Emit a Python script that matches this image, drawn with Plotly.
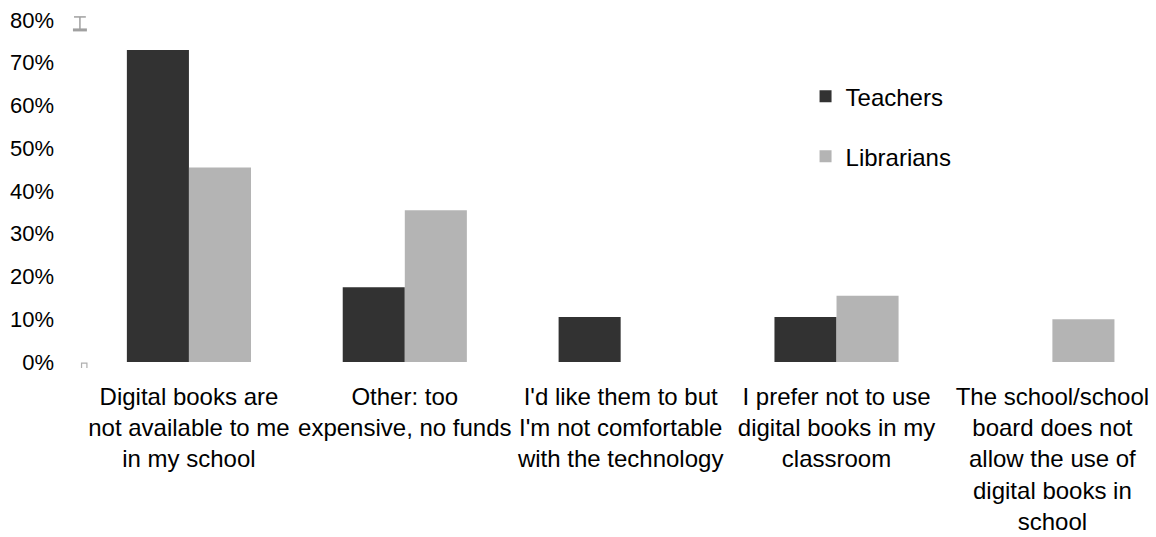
import plotly.graph_objects as go

categories = [
    "Digital books are<br>not available to me<br>in my school",
    "Other: too<br>expensive, no funds",
    "I'd like them to but<br>I'm not comfortable<br>with the technology",
    "I prefer not to use<br>digital books in my<br>classroom",
    "The school/school<br>board does not<br>allow the use of<br>digital books in<br>school",
]
teachers = [0.73, 0.175, 0.105, 0.105, 0.0]
librarians = [0.455, 0.355, 0.0, 0.155, 0.10]
y_ticks = [0, 0.1, 0.2, 0.3, 0.4, 0.5, 0.6, 0.7, 0.8]
y_tick_labels = ["0%", "10%", "20%", "30%", "40%", "50%", "60%", "70%", "80%"]

FONT = "Liberation Sans, Arial, sans-serif"

fig = go.Figure()
fig.add_trace(go.Bar(name="Teachers", x=categories, y=teachers,
                     marker=dict(color="#323232", line=dict(width=0)),
                     legendgroup="t"))
fig.add_trace(go.Bar(name="Librarians", x=categories, y=librarians,
                     marker=dict(color="#b4b4b4", line=dict(width=0)),
                     legendgroup="l"))

# small grey axis-end marks seen at the left of the plot
mark = dict(color="#a0a0a0", width=1.5)
shapes = [
    dict(type="line", xref="paper", yref="paper", x0=-0.0065, x1=0.0045, y0=1.009, y1=1.009, line=mark),
    dict(type="line", xref="paper", yref="paper", x0=-0.0010, x1=-0.0010, y0=1.009, y1=0.973, line=mark),
    dict(type="line", xref="paper", yref="paper", x0=-0.0075, x1=0.0055, y0=0.971, y1=0.971,
         line=dict(color="#a0a0a0", width=3)),
    dict(type="path", xref="paper", yref="paper",
         path="M 0.0005,-0.0175 L 0.0005,-0.003 L 0.0055,-0.003 L 0.0055,-0.0175",
         line=dict(color="#b0b0b0", width=1.2)),
]

fig.update_layout(
    width=1148, height=529,
    margin=dict(l=73, r=0, t=12, b=175),
    paper_bgcolor="white", plot_bgcolor="white",
    barmode="group", bargap=0.425, bargroupgap=0,
    font=dict(family=FONT, color="#000000", size=24),
    legend=dict(x=0.674, y=0.842, xanchor="left", yanchor="top",
                font=dict(size=24, family=FONT), tracegroupgap=26,
                bgcolor="rgba(0,0,0,0)"),
    showlegend=True,
    shapes=shapes,
)
fig.update_xaxes(range=[-0.5, 4.48], showline=False, showgrid=False, zeroline=False,
                 ticks="", tickfont=dict(size=24, family=FONT), tickangle=0,
                 automargin=False, ticklabelstandoff=18, ticklabeloverflow="allow")
fig.update_yaxes(range=[0, 0.8], tickvals=y_ticks, ticktext=y_tick_labels,
                 showgrid=False, zeroline=False, showline=False, ticks="",
                 tickfont=dict(size=22, family=FONT), automargin=False,
                 ticklabelstandoff=26, ticklabeloverflow="allow")

fig.write_html("out.html")
